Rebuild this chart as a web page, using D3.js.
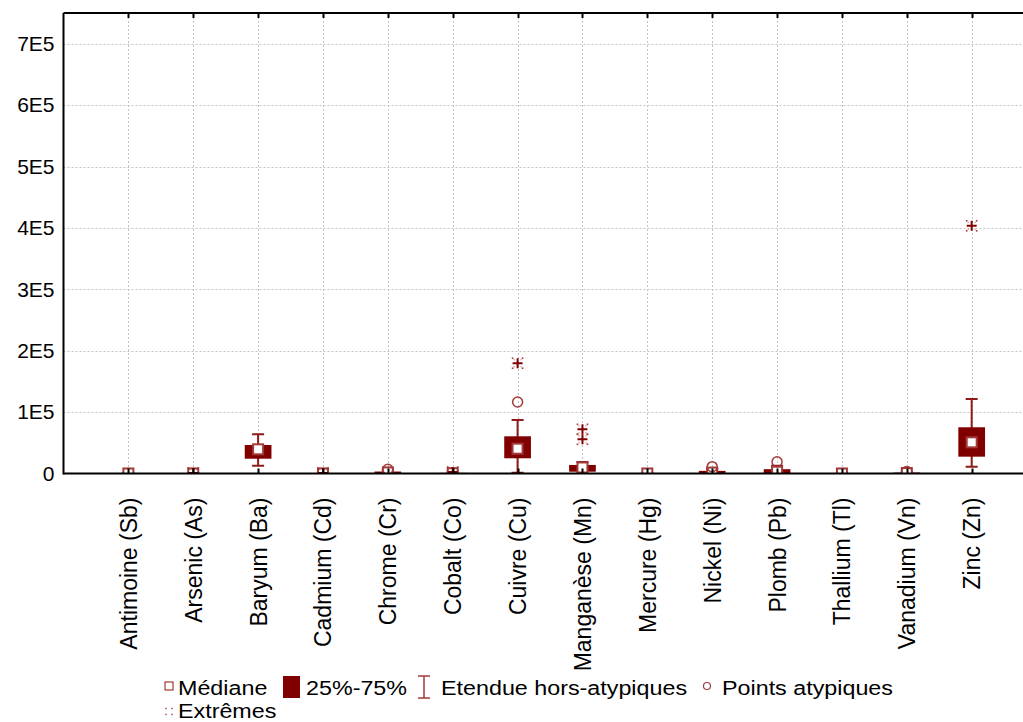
<!DOCTYPE html>
<html>
<head>
<meta charset="utf-8">
<script src="https://cdn.jsdelivr.net/npm/d3@7"></script>
<style>
  html, body { margin: 0; padding: 0; background: #fff; }
  svg { display: block; font-family: "Liberation Sans", Arial, sans-serif; }
</style>
</head>
<body>
<svg id="chart" width="1023" height="722"></svg>
<script>
// Elements measured (concentrations)
const categories = ["Antimoine (Sb)", "Arsenic (As)", "Baryum (Ba)", "Cadmium (Cd)", "Chrome (Cr)",
  "Cobalt (Co)", "Cuivre (Cu)", "Manganèse (Mn)", "Mercure (Hg)", "Nickel (Ni)", "Plomb (Pb)",
  "Thallium (Tl)", "Vanadium (Vn)", "Zinc (Zn)"];
const whiskerLow  = [0,   0,   12700, 0,   0,    0,    1300,  0,     0,  0,     0,     0,  0,    11100];
const q1          = [0,   50,  24100, 50,  800,  200,  24800, 2900,  0,  300,   500,   0,  200,  27400];
const median      = [50,  150, 39400, 150, 1800, 600,  40400, 9800,  30, 1500,  3000,  30, 800,  50800];
const q3          = [100, 300, 46400, 300, 3200, 1000, 60600, 13900, 60, 4300,  7000,  60, 1500, 75300];
const whiskerHigh = [200, 600, 63900, 600, 4800, 1600, 87200, 18700, 90, 7500,  12500, 90, 2200, 121400];
const outliers    = [[], [], [], [], [6800], [], [116500], [], [], [11100], [19200], [], [3400], []];
const extremes    = [[], [900], [], [800], [], [2500], [179600], [55700, 72000], [], [], [], [], [], [403400]];
const yTicks = [0, 100000, 200000, 300000, 400000, 500000, 600000, 700000];
const yTickLabels = ["0", "1E5", "2E5", "3E5", "4E5", "5E5", "6E5", "7E5"];
const legendLabels = ["Médiane", "25%-75%", "Etendue hors-atypiques", "Points atypiques", "Extrêmes"];

const dark = "#800000";
const mid = "#8e1a1a";
const light = "#a33a3a";

const svg = d3.select("#chart");
svg.append("rect").attr("width", 1023).attr("height", 722).attr("fill", "#fff");

const plotLeft = 63.5, plotTop = 13, plotBottom = 473.5;
const step = 64.87;
const plotRight = plotLeft + step * (categories.length + 1);

const x = d3.scaleLinear().domain([0, categories.length + 1]).range([plotLeft, plotRight]);
const y = d3.scaleLinear().domain([0, 750000]).range([plotBottom, plotTop]);
const xc = i => x(i + 1);

// clip for marks
svg.append("defs").append("clipPath").attr("id", "plotclip")
  .append("rect").attr("x", plotLeft).attr("y", plotTop).attr("width", plotRight - plotLeft).attr("height", plotBottom - plotTop);

// grid
const grid = svg.append("g").attr("stroke", "#c4c4c4").attr("stroke-width", 1).attr("stroke-dasharray", "2,2");
grid.selectAll("line.h").data(yTicks.slice(1)).join("line")
  .attr("x1", plotLeft).attr("x2", plotRight).attr("y1", d => Math.round(y(d)) + 0.5).attr("y2", d => Math.round(y(d)) + 0.5);
grid.selectAll("line.v").data(categories).join("line")
  .attr("y1", plotTop).attr("y2", plotBottom).attr("x1", (d, i) => Math.round(xc(i)) + 0.5).attr("x2", (d, i) => Math.round(xc(i)) + 0.5);

// y axis labels
const yAxis = d3.axisLeft(y).tickValues(yTicks).tickSize(0).tickPadding(9)
  .tickFormat((d, i) => yTickLabels[i]);
svg.append("g").attr("transform", `translate(${plotLeft},0)`).call(yAxis)
  .call(g => g.select(".domain").remove())
  .call(g => g.selectAll("text").attr("font-size", 21).attr("fill", "#000").attr("font-family", "Liberation Sans, Arial, sans-serif"));

// x axis labels (rotated)
const xAxis = d3.axisBottom(x).tickValues(d3.range(1, categories.length + 1)).tickSize(0)
  .tickFormat(d => categories[d - 1]);
svg.append("g").attr("transform", `translate(0,${plotBottom})`).call(xAxis)
  .call(g => g.select(".domain").remove())
  .call(g => g.selectAll("text")
    .attr("font-size", 23).attr("fill", "#000").attr("font-family", "Liberation Sans, Arial, sans-serif")
    .attr("text-anchor", "end").attr("dy", null).attr("y", 0)
    .attr("transform", "translate(8,24) rotate(-90)"));

// marks
const marks = svg.append("g").attr("clip-path", "url(#plotclip)");
const capW = 12, boxW = 26.7, medS = 10;

categories.forEach((c, i) => {
  const cx = xc(i);
  const g = marks.append("g");
  // whisker
  g.append("line").attr("x1", cx).attr("x2", cx).attr("y1", y(whiskerLow[i])).attr("y2", y(whiskerHigh[i]))
    .attr("stroke", mid).attr("stroke-width", 2);
  [whiskerLow[i], whiskerHigh[i]].forEach(v => {
    g.append("line").attr("x1", cx - capW / 2).attr("x2", cx + capW / 2).attr("y1", y(v)).attr("y2", y(v))
      .attr("stroke", mid).attr("stroke-width", 2);
  });
  // box
  g.append("rect").attr("x", cx - boxW / 2).attr("width", boxW)
    .attr("y", y(q3[i])).attr("height", Math.max(0.8, y(q1[i]) - y(q3[i])))
    .attr("fill", dark);
  // median
  g.append("rect").attr("x", cx - medS / 2).attr("y", y(median[i]) - medS / 2)
    .attr("width", medS).attr("height", medS).attr("fill", "#fff")
    .attr("stroke", light).attr("stroke-width", 2);
  // outliers
  outliers[i].forEach(v => {
    g.append("circle").attr("cx", cx).attr("cy", y(v)).attr("r", 5)
      .attr("fill", "none").attr("stroke", light).attr("stroke-width", 1.5);
  });
  // extremes: plus with dotted diagonals
  extremes[i].forEach(v => {
    const cy = y(v);
    g.append("line").attr("x1", cx - 5).attr("x2", cx + 5).attr("y1", cy).attr("y2", cy).attr("stroke", dark).attr("stroke-width", 2);
    g.append("line").attr("x1", cx).attr("x2", cx).attr("y1", cy - 5).attr("y2", cy + 5).attr("stroke", dark).attr("stroke-width", 2);
    [[-1, -1], [1, -1], [-1, 1], [1, 1]].forEach(([dx, dy]) => {
      g.append("rect").attr("x", cx + dx * 5 - 0.8).attr("y", cy + dy * 5 - 0.8).attr("width", 1.6).attr("height", 1.6).attr("fill", light);
      g.append("rect").attr("x", cx + dx * 3.5 - 0.6).attr("y", cy + dy * 3.5 - 0.6).attr("width", 1.2).attr("height", 1.2).attr("fill", light).attr("opacity", 0.6);
    });
  });
});

// frame
const frame = svg.append("g").attr("stroke", "#000").attr("fill", "none");
frame.append("line").attr("x1", plotLeft).attr("x2", plotLeft).attr("y1", plotTop).attr("y2", plotBottom + 1).attr("stroke-width", 2);
frame.append("line").attr("x1", plotLeft).attr("x2", plotRight).attr("y1", plotTop).attr("y2", plotTop).attr("stroke-width", 2);
frame.append("line").attr("x1", plotLeft).attr("x2", plotRight).attr("y1", plotBottom).attr("y2", plotBottom).attr("stroke-width", 2);
// inward ticks
frame.selectAll("line.tb").data(categories).join("line")
  .attr("x1", (d, i) => Math.round(xc(i)) + 0.5).attr("x2", (d, i) => Math.round(xc(i)) + 0.5)
  .attr("y1", plotBottom).attr("y2", plotBottom - 5).attr("stroke-width", 2);
frame.selectAll("line.tt").data(categories).join("line")
  .attr("x1", (d, i) => Math.round(xc(i)) + 0.5).attr("x2", (d, i) => Math.round(xc(i)) + 0.5)
  .attr("y1", plotTop).attr("y2", plotTop + 5).attr("stroke-width", 2);

// legend (text slightly widened)
const lg = svg.append("g").attr("font-size", 21).attr("fill", "#000");
const row1 = 695, row2 = 717.5;
const legendText = (tx, ty, s) => lg.append("text")
  .attr("transform", `translate(${tx},${ty}) scale(1.11,1)`).text(s);
// Médiane
lg.append("rect").attr("x", 165).attr("y", row1 - 13).attr("width", 8).attr("height", 8)
  .attr("fill", "#fff").attr("stroke", light).attr("stroke-width", 1.2);
legendText(178, row1, legendLabels[0]);
// 25%-75%
lg.append("rect").attr("x", 283).attr("y", row1 - 19).attr("width", 17).attr("height", 22).attr("fill", dark);
legendText(306, row1, legendLabels[1]);
// whisker range
const wx = 424;
lg.append("line").attr("x1", wx).attr("x2", wx).attr("y1", row1 - 19).attr("y2", row1 + 3).attr("stroke", light).attr("stroke-width", 1.5);
lg.append("line").attr("x1", wx - 6).attr("x2", wx + 6).attr("y1", row1 - 19).attr("y2", row1 - 19).attr("stroke", light).attr("stroke-width", 1.5);
lg.append("line").attr("x1", wx - 6).attr("x2", wx + 6).attr("y1", row1 + 3).attr("y2", row1 + 3).attr("stroke", light).attr("stroke-width", 1.5);
legendText(441, row1, legendLabels[2]);
// outliers
lg.append("circle").attr("cx", 707).attr("cy", row1 - 9).attr("r", 3.5).attr("fill", "none").attr("stroke", light).attr("stroke-width", 1.2);
legendText(722, row1, legendLabels[3]);
// extremes
[[-1, -1], [1, -1], [-1, 1], [1, 1]].forEach(([dx, dy]) => {
  lg.append("rect").attr("x", 169 + dx * 3 - 0.7).attr("y", row2 - 6 + dy * 3 - 0.7).attr("width", 1.4).attr("height", 1.4).attr("fill", light);
});
legendText(178, row2, legendLabels[4]);
</script>
</body>
</html>
